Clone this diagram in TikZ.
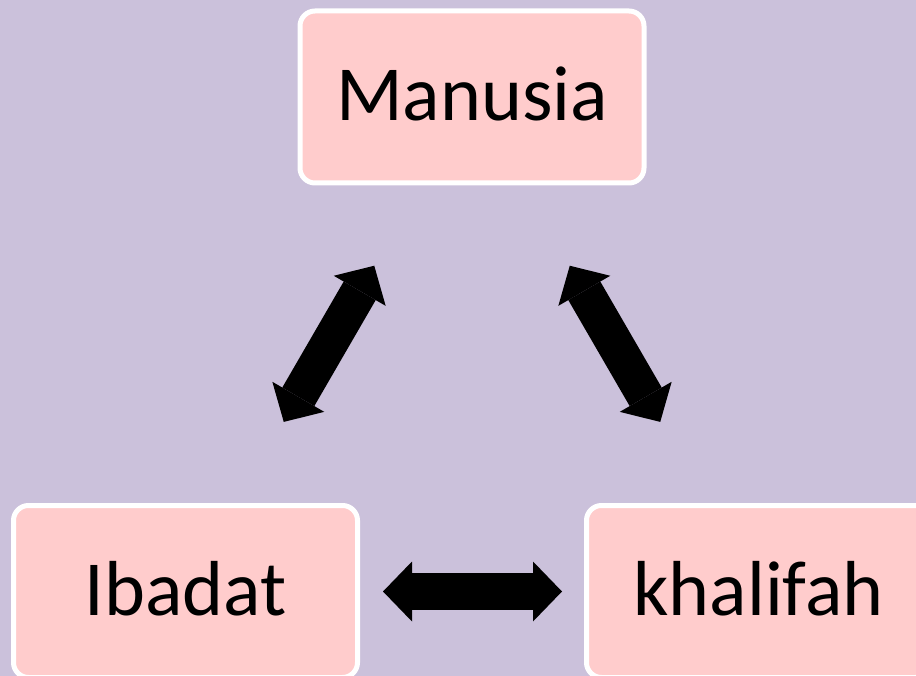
\documentclass[tikz,border=0pt]{standalone}
\usepackage{fontspec}
\setmainfont{Carlito}
\usetikzlibrary{arrows.meta}
\definecolor{bgcol}{HTML}{CBC1DB}
\definecolor{boxcol}{HTML}{FFCCCC}
\tikzset{
  box/.style={draw=white, line width=5pt, fill=boxcol, rounded corners=15pt,
    minimum width=344pt, minimum height=172pt, inner sep=0pt,
    text height=48pt, text depth=0pt, font=\fontsize{78pt}{90pt}\selectfont},
  bigtip/.tip={Triangle[length=29pt 0 0,width=60pt 0 0,line width=0pt 0 0]},
  dbl/.style={line width=37pt, black, bigtip-bigtip}
}
\begin{document}
\begin{tikzpicture}[x=1pt,y=-1pt]
\fill[bgcol] (0,0) rectangle (916,676);
\useasboundingbox (0,0) rectangle (916,676);
\node[box] (man) at (472,97) {Manusia};
\node[box] (ib) at (185.5,591.5) {Ibadat};
\node[box] (kh) at (758.5,591.5) {khalifah};
\draw[dbl, shorten <=196pt, shorten >=195pt] (ib.center) -- (man.center);
\draw[dbl, shorten <=195pt, shorten >=196pt] (man.center) -- (kh.center);
\draw[dbl, shorten <=197.5pt, shorten >=196.5pt] (ib.center) -- (kh.center);
\end{tikzpicture}
\end{document}
